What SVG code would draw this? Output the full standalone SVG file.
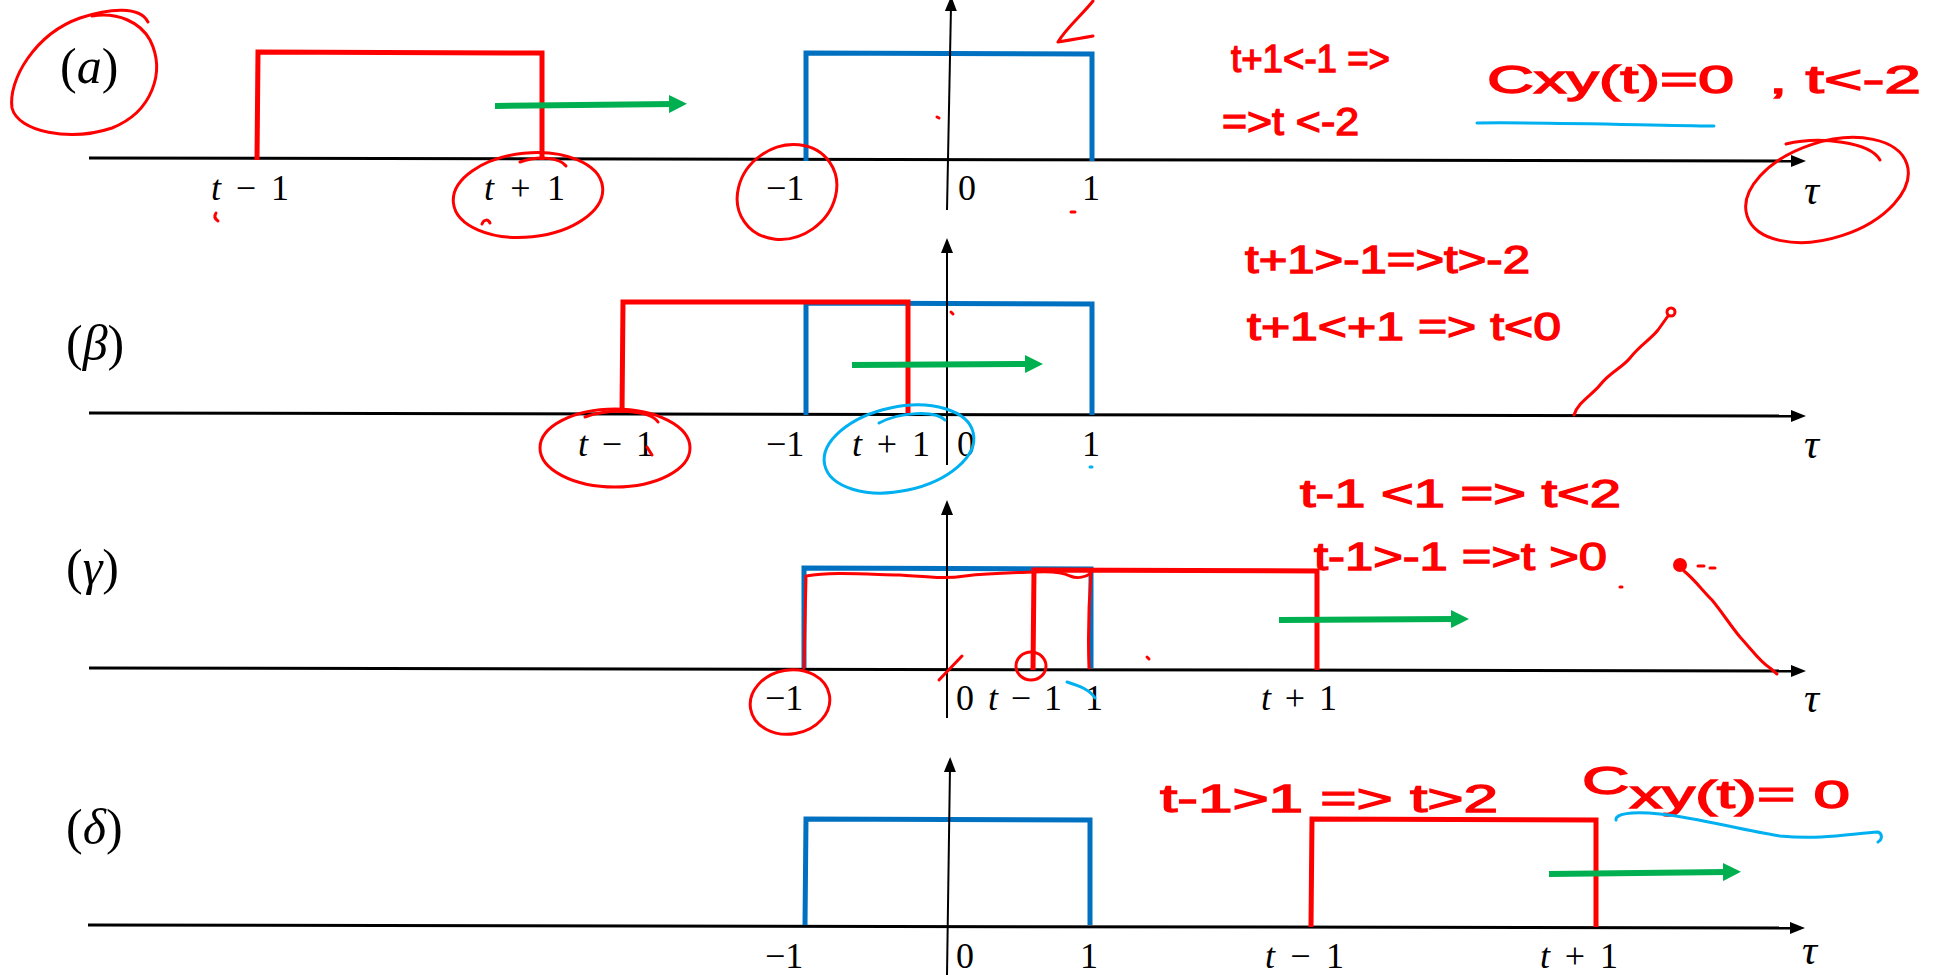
<svg xmlns="http://www.w3.org/2000/svg" width="1946" height="975" viewBox="0 0 1946 975">
<defs>
<style>
.ax{stroke:#000;stroke-width:3;fill:none}
.vax{stroke:#000;stroke-width:2;fill:none}
.red{stroke:#FF0000;stroke-width:5;fill:none}
.blue{stroke:#0070C0;stroke-width:5;fill:none}
.grn{stroke:#00B050;stroke-width:6;fill:none}
.lbl{font-family:"Liberation Serif",serif;font-size:36px;fill:#000}
.tau{font-family:"Liberation Serif",serif;font-size:42px;font-style:italic;fill:#000}
.it{font-style:italic}
.pl{font-family:"Liberation Serif",serif;font-size:50px;fill:#000}
.hw{font-family:"Liberation Sans",sans-serif;font-size:38px;fill:#FF0000;stroke:#FF0000;stroke-width:1.3px}
.ink{stroke:#FF0000;stroke-width:3;fill:none;stroke-linecap:round;stroke-linejoin:round}
.bink{stroke:#00B0F0;stroke-width:3;fill:none;stroke-linecap:round;stroke-linejoin:round}
</style>
<marker id="axArr" markerUnits="userSpaceOnUse" markerWidth="15" markerHeight="12" refX="5" refY="6" orient="auto"><path d="M0,0 L15,6 L0,12 z" fill="#000"/></marker>
<marker id="gArr" markerUnits="userSpaceOnUse" markerWidth="18" markerHeight="18" refX="4" refY="9" orient="auto"><path d="M0,0 L18,9 L0,18 z" fill="#00B050"/></marker>
</defs>
<rect width="1946" height="975" fill="#fff"/>

<!-- Panel (a) -->
<g id="panel-a">
<line class="ax" x1="89" y1="158" x2="1796" y2="161" marker-end="url(#axArr)"/>
<path class="red" d="M257,160 L258,52 L542,53 L542,160"/>
<path class="blue" d="M806,161 L806,53 L1092,54 L1092,161"/>
<line class="vax" x1="947" y1="210" x2="951" y2="6" marker-end="url(#axArr)"/>
<line class="grn" x1="495" y1="106" x2="673" y2="104" marker-end="url(#gArr)"/>
<text class="pl" x="60" y="83"><tspan>(</tspan><tspan class="it">a</tspan><tspan>)</tspan></text>
<text class="lbl" x="211" y="200" textLength="78"><tspan class="it">t</tspan> − 1</text>
<text class="lbl" x="484" y="200" textLength="81"><tspan class="it">t</tspan> + 1</text>
<text class="lbl" x="766" y="200">−1</text>
<text class="lbl" x="958" y="200">0</text>
<text class="lbl" x="1082" y="200">1</text>
<text class="tau" x="1804" y="204">τ</text>
</g>

<!-- Panel (beta) -->
<g id="panel-b">
<line class="ax" x1="89" y1="413" x2="1796" y2="416" marker-end="url(#axArr)"/>
<path class="blue" d="M806,415 L806,303 L1092,304 L1092,415"/>
<path class="red" d="M622,413 L623,302 L908,302 L908,413"/>
<line class="vax" x1="947" y1="465" x2="947" y2="248" marker-end="url(#axArr)"/>
<line class="grn" x1="852" y1="365" x2="1029" y2="364" marker-end="url(#gArr)"/>
<text class="pl" x="66" y="360"><tspan>(</tspan><tspan class="it">β</tspan><tspan>)</tspan></text>
<text class="lbl" x="578" y="456" textLength="76"><tspan class="it">t</tspan> − 1</text>
<text class="lbl" x="766" y="456">−1</text>
<text class="lbl" x="852" y="456" textLength="78"><tspan class="it">t</tspan> + 1</text>
<text class="lbl" x="957" y="456">0</text>
<text class="lbl" x="1082" y="456">1</text>
<text class="tau" x="1804" y="458">τ</text>
</g>

<!-- Panel (gamma) -->
<g id="panel-c">
<line class="ax" x1="89" y1="668" x2="1796" y2="671" marker-end="url(#axArr)"/>
<path class="blue" d="M804,668 L804,568 L1091,569 L1091,668"/>
<path class="red" d="M1033,670 L1034,570 L1317,571 L1317,670"/>
<line class="vax" x1="947" y1="718" x2="947" y2="510" marker-end="url(#axArr)"/>
<line class="grn" x1="1279" y1="620" x2="1455" y2="619" marker-end="url(#gArr)"/>
<text class="pl" x="66" y="584"><tspan>(</tspan><tspan class="it">γ</tspan><tspan>)</tspan></text>
<text class="lbl" x="765" y="710">−1</text>
<text class="lbl" x="956" y="710">0</text>
<text class="lbl" x="988" y="710" textLength="74"><tspan class="it">t</tspan> − 1</text>
<text class="lbl" x="1085" y="710">1</text>
<text class="lbl" x="1261" y="710" textLength="76"><tspan class="it">t</tspan> + 1</text>
<text class="tau" x="1804" y="712">τ</text>
</g>

<!-- Panel (delta) -->
<g id="panel-d">
<line class="ax" x1="88" y1="925" x2="1795" y2="928" marker-end="url(#axArr)"/>
<path class="blue" d="M805,925 L806,819 L1090,820 L1090,925"/>
<path class="red" d="M1311,927 L1312,819 L1596,820 L1596,927"/>
<line class="vax" x1="947" y1="975" x2="950" y2="767" marker-end="url(#axArr)"/>
<line class="grn" x1="1549" y1="874" x2="1727" y2="872" marker-end="url(#gArr)"/>
<text class="pl" x="66" y="844"><tspan>(</tspan><tspan class="it">δ</tspan><tspan>)</tspan></text>
<text class="lbl" x="765" y="968">−1</text>
<text class="lbl" x="956" y="968">0</text>
<text class="lbl" x="1080" y="968">1</text>
<text class="lbl" x="1265" y="968" textLength="79"><tspan class="it">t</tspan> − 1</text>
<text class="lbl" x="1540" y="968" textLength="78"><tspan class="it">t</tspan> + 1</text>
<text class="tau" x="1802" y="964">τ</text>
</g>

<!-- Hand-drawn annotations -->
<g id="annotations">
<!-- panel a -->
<path class="ink" d="M148,22 C140,6 110,8 80,18 C35,34 8,80 12,108 C18,132 70,142 112,128 C152,112 166,72 150,40 C140,22 118,12 92,16"/>
<ellipse class="ink" cx="528" cy="195" rx="75" ry="42" transform="rotate(-6 528 195)"/>
<path class="ink" d="M520,162 C540,155 560,158 566,166"/>
<ellipse class="ink" cx="787" cy="192" rx="52" ry="45" transform="rotate(-35 787 192)"/>
<ellipse class="ink" cx="1827" cy="190" rx="84" ry="48" transform="rotate(-18 1827 190)"/>
<path class="ink" d="M1786,144 C1820,136 1870,142 1880,160"/>
<path class="ink" d="M1093,1 C1082,15 1066,28 1058,42 C1070,40 1082,38 1093,36"/>
<path class="ink" d="M216,213 C214,216 215,219 218,221"/>
<path class="ink" d="M482,224 C484,219 488,219 490,223"/>
<path class="ink" d="M937,117 L939,118"/>
<path class="ink" d="M1071,212 L1075,212"/>
<text class="hw" x="1231" y="72" textLength="159" lengthAdjust="spacingAndGlyphs">t+1&lt;-1 =&gt;</text>
<text class="hw" x="1222" y="135" textLength="137" lengthAdjust="spacingAndGlyphs">=&gt;t &lt;-2</text>
<text class="hw" x="1487" y="93" font-size="50" textLength="247" lengthAdjust="spacingAndGlyphs">Cxy(t)=0</text>
<text class="hw" x="1769" y="93" font-size="50" textLength="152" lengthAdjust="spacingAndGlyphs">, t&lt;-2</text>
<path class="bink" d="M1477,123 C1540,122 1640,125 1714,126"/>
<!-- panel beta -->
<ellipse class="ink" cx="615" cy="448" rx="75" ry="39"/>
<path class="ink" d="M585,417 C610,408 650,410 658,422"/>
<path class="ink" d="M647,447 L652,455"/>
<ellipse class="bink" cx="899" cy="449" rx="76" ry="42" transform="rotate(-12 899 449)"/>
<path class="bink" d="M879,423 C900,412 935,410 945,420"/>
<path class="ink" d="M951,312 L953,314"/>
<path class="bink" d="M1090,467 L1092,467"/>
<text class="hw" x="1245" y="273" font-size="40" textLength="285" lengthAdjust="spacingAndGlyphs">t+1&gt;-1=&gt;t&gt;-2</text>
<text class="hw" x="1247" y="340" font-size="42" textLength="314" lengthAdjust="spacingAndGlyphs">t+1&lt;+1 =&gt; t&lt;0</text>
<path class="ink" d="M1574,415 C1578,402 1592,395 1600,385 C1610,372 1622,368 1630,358 C1640,345 1650,340 1658,330 L1668,316"/>
<circle class="ink" cx="1671" cy="312" r="4"/>
<!-- panel gamma -->
<path class="ink" d="M804,668 L806,576 C830,572 860,574 900,575 C930,577 945,579 965,576 C990,573 1010,573 1034,572 C1050,571 1062,572 1070,576 C1078,579 1086,577 1091,573 C1089,600 1088,640 1089,668"/>
<ellipse class="ink" cx="790" cy="702" rx="40" ry="32" transform="rotate(-10 790 702)"/>
<ellipse class="ink" cx="1031" cy="666" rx="15" ry="14"/>
<path class="ink" d="M939,680 L962,656"/>
<path class="bink" d="M1067,682 C1080,686 1090,690 1095,698"/>
<path class="ink" d="M1147,657 L1149,659"/>
<text class="hw" x="1300" y="507" font-size="44" textLength="321" lengthAdjust="spacingAndGlyphs">t-1 &lt;1 =&gt; t&lt;2</text>
<text class="hw" x="1314" y="570" font-size="42" textLength="293" lengthAdjust="spacingAndGlyphs">t-1&gt;-1 =&gt;t &gt;0</text>
<path class="ink" d="M1620,587 L1622,587"/>
<circle cx="1680" cy="565" r="7" fill="#FF0000"/>
<path class="ink" d="M1698,566 L1704,566 M1710,568 L1715,568"/>
<path class="ink" d="M1684,571 C1695,580 1702,590 1712,600 C1722,612 1730,625 1740,637 C1752,650 1760,662 1770,668 L1777,674"/>
<!-- panel delta -->
<text class="hw" x="1160" y="812" font-size="52" textLength="338" lengthAdjust="spacingAndGlyphs">t-1&gt;1 =&gt; t&gt;2</text>
<text class="hw" x="1582" y="808" font-size="52" textLength="268" lengthAdjust="spacingAndGlyphs"><tspan dy="-14">C</tspan><tspan dy="14">xy(t)= 0</tspan></text>
<path class="bink" d="M1616,820 C1615,814 1630,811 1660,814 C1700,818 1740,830 1780,836 C1820,840 1850,834 1878,832 C1883,834 1882,840 1878,842"/>
</g>
</svg>
